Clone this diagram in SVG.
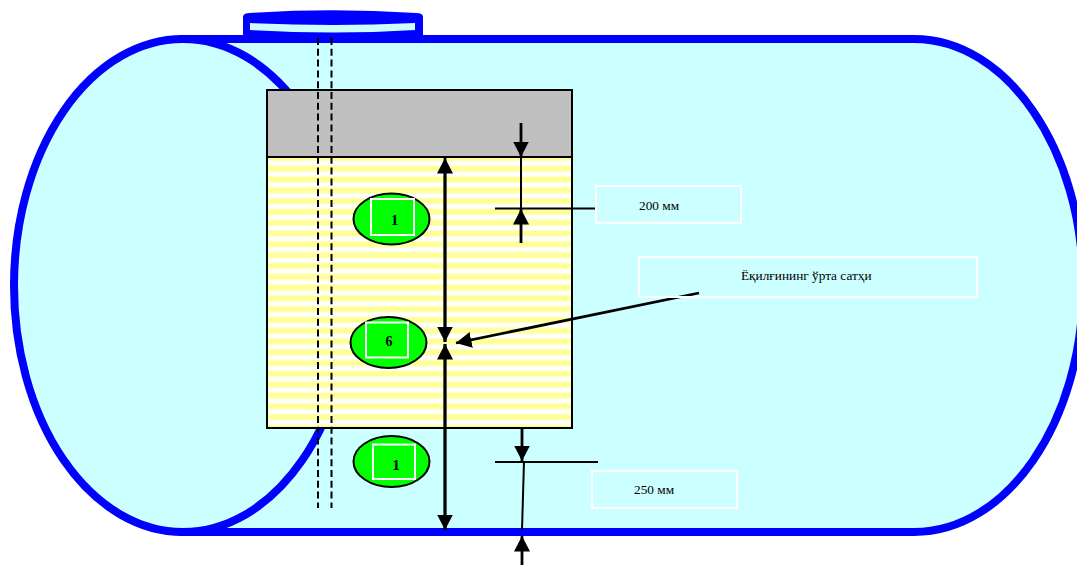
<svg xmlns="http://www.w3.org/2000/svg" width="1077" height="565" viewBox="0 0 1077 565">
<style>
.tank{fill:#ccffff;stroke:#0000ff;stroke-width:8}
.box{fill:none;stroke:#ffffff;stroke-width:2}
.oval{fill:#00ff00;stroke:#000000;stroke-width:2}
.sq{fill:none;stroke:#ffffff;stroke-width:2}
.num{font-family:"Liberation Serif","Times New Roman",serif;font-weight:bold;font-size:14px;text-anchor:middle;fill:#000}
.lbl{font-family:"Liberation Serif","Times New Roman",serif;font-size:13.3px;fill:#000}
.w{fill:none;stroke:#000;stroke-width:2.8}
.t{fill:none;stroke:#000;stroke-width:2}
.d{fill:none;stroke:#000;stroke-width:2;stroke-dasharray:7 3.800}
</style>
<defs>
<pattern id="stripes" patternUnits="userSpaceOnUse" x="0" y="176" width="10" height="10.8">
<rect width="10" height="10.8" fill="#ffffff"/>
<rect width="10" height="7" fill="#ffffcc"/>
<rect y="1" width="10" height="5" fill="#ffff99"/>
</pattern>
<marker id="ah" markerUnits="userSpaceOnUse" markerWidth="17" markerHeight="17" refX="15.500" refY="8.500" orient="auto" viewBox="0 0 17 17">
<path d="M0 0.500L15.500 8.500L0 16.500Z" fill="#000"/>
</marker>
</defs>
<g id="tank">
<path class="tank" d="M183 39H914C1007 39 1083 150 1083 285.500C1083 422 1007 532 914 532H183Z"/>
<ellipse class="tank" cx="183" cy="285.500" rx="169" ry="246.500"/>
</g>
<g id="lid">
<path d="M243 36V17Q243 13 250 13Q333 7.500 416 13Q423 13 423 17V36Z" fill="#0000ff"/>
<path d="M250 23Q333 27 415 23V30Q333 35 250 30Z" fill="#ccffff"/>
</g>
<g id="upper-layer"><rect x="267" y="90" width="305" height="67" fill="#c0c0c0" stroke="#000" stroke-width="2"/></g>
<g id="lower-layer"><rect x="267" y="157" width="305" height="271" fill="url(#stripes)" stroke="#000" stroke-width="2"/></g>
<g id="connectors">
<path class="d" d="M318 38V508"/>
<path class="d" d="M331.500 38V508"/>
<path class="w" d="M445 172V342" marker-end="url(#ah)"/>
<path class="w" d="M445 342V158" marker-end="url(#ah)"/>
<path class="w" d="M445 344V530" marker-end="url(#ah)"/>
<path class="w" d="M445 530V344" marker-end="url(#ah)"/>
<path class="w" d="M521 123V157" marker-end="url(#ah)"/>
<path class="w" d="M521 243V209" marker-end="url(#ah)"/>
<path class="t" d="M521 157V209"/>
<path class="t" d="M495 208.500H596"/>
<path class="w" d="M699 293L456 343" marker-end="url(#ah)"/>
<path class="w" d="M522 427V461" marker-end="url(#ah)"/>
<path class="t" d="M495 462H598"/>
<path class="t" d="M524 461L522 530"/>
<path class="w" d="M522 565V536" marker-end="url(#ah)"/>
</g>
<g id="label-200"><rect class="box" x="596" y="186" width="145" height="37"/><text class="lbl" x="639" y="210">200 мм</text></g>
<g id="label-mid"><rect class="box" x="639" y="257" width="338" height="40"/><text class="lbl" x="741" y="280">Ёқилғининг ўрта сатҳи</text></g>
<g id="label-250"><rect class="box" x="592" y="471" width="145" height="37"/><text class="lbl" x="634" y="494">250 мм</text></g>
<g id="node-1a"><ellipse class="oval" cx="391.500" cy="219" rx="38" ry="25.500"/><rect class="sq" x="371" y="199" width="43" height="36"/><text class="num" x="394.500" y="225" style="font-size:14.500px">1</text></g>
<g id="node-6"><ellipse class="oval" cx="388.500" cy="342.500" rx="38" ry="25.500"/><rect class="sq" x="366" y="322.500" width="42" height="35"/><text class="num" x="389" y="346">6</text></g>
<g id="node-1b"><ellipse class="oval" cx="391.500" cy="461.500" rx="38" ry="25.500"/><rect class="sq" x="373" y="444.500" width="42" height="34.500"/><text class="num" x="396" y="470" style="font-size:15.500px">1</text></g>
</svg>
